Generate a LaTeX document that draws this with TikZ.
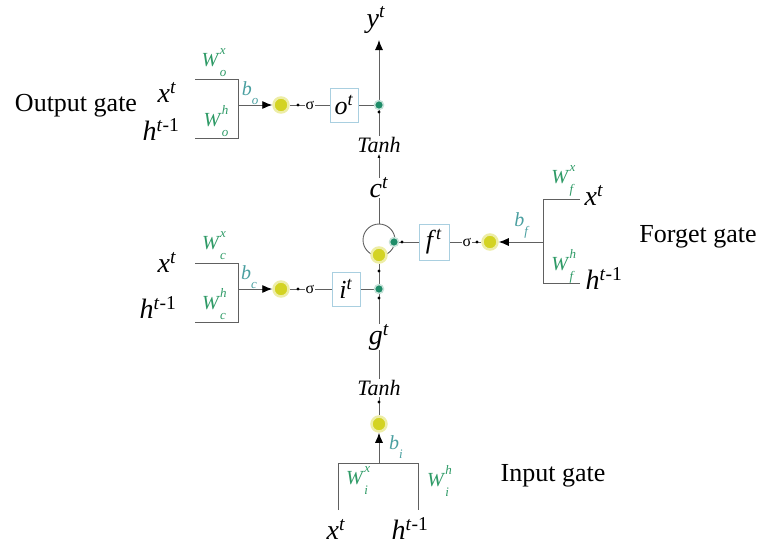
\documentclass[tikz,border=0pt]{standalone}
\usepackage{fontspec}
\setmainfont{Liberation Serif}
\usetikzlibrary{arrows.meta,backgrounds}
\definecolor{wgreen}{HTML}{2E9A66}
\definecolor{bteal}{HTML}{4A9FA0}
\definecolor{boxblue}{HTML}{A9CFE0}
\definecolor{ydotc}{HTML}{D3D323}
\definecolor{gdotc}{HTML}{1E8C68}
\definecolor{wirec}{HTML}{606060}
\newcommand{\vv}[2]{\textit{#1}\textsuperscript{\textit{#2}}}
\newcommand{\hh}{\textit{h}\textsuperscript{\textit{t}-1}}
\newcommand{\WW}[2]{\textit{W}\rlap{\raisebox{0.6em}{\fontsize{13}{13}\selectfont\textit{#1}}}\raisebox{-0.5em}{\fontsize{13}{13}\selectfont\textit{#2}}}
\newcommand{\BB}[1]{\textit{b}\raisebox{-0.45em}{\fontsize{13}{13}\selectfont\textit{#1}}}
\begin{document}
\begin{tikzpicture}[x=1pt,y=-1pt,
  gatelbl/.style={inner sep=0, font=\fontsize{26}{28}\selectfont},
  var/.style={inner sep=0, font=\fontsize{28}{30}\selectfont},
  wl/.style={inner sep=0, text=wgreen, font=\fontsize{20}{21}\selectfont},
  bl/.style={inner sep=0, text=bteal, font=\fontsize{20}{21}\selectfont},
  sig/.style={inner sep=0.5, font=\fontsize{16}{18}\selectfont},
  tanhlbl/.style={inner sep=1, font=\itshape\fontsize{22}{24}\selectfont},
  gbox/.style={draw=boxblue, line width=0.8pt, minimum width=28, minimum height=34, inner sep=0, font=\fontsize{26}{28}\selectfont},
  ydot/.style={circle, fill=ydotc, draw=ydotc!40, line width=2.5pt, minimum size=15, inner sep=0},
  gdot/.style={circle, fill=gdotc, draw=gdotc!25, line width=1.5pt, minimum size=9, inner sep=0},
  sdot/.style={circle, fill=black, minimum size=3.2, inner sep=0},
  wire/.style={draw=wirec, line width=0.9pt},
  arr/.style={wire, -{Latex[length=10,width=8,color=black]}},
  sarr/.style={wire, line width=0.6pt, -{Latex[length=4,width=3,color=black]}},
  cellc/.style={circle, draw=wirec, line width=0.9pt, minimum size=32, inner sep=0}
]
\useasboundingbox (0,0) rectangle (762,547);

% ---------- main column ----------
\node[var] (yt) at (376,20) {\vv{y}{t}};
\coordinate (ytip) at (379,40);
\node[gdot] (og) at (379,105) {};
\node[sdot] (od) at (379,112) {};
\node[tanhlbl] (th1) at (379,145) {Tanh};
\node[var] (ct) at (379,188) {\vv{c}{t}};
\node[cellc] (cell) at (379,240) {};
\node[ydot] (yc) at (379,255) {};
\node[gdot] (cg) at (394,242) {};
\node[sdot] (cgd) at (402,242) {};
\node[sdot] (yd) at (379,271) {};
\node[gdot] (ig) at (379,289) {};
\node[sdot] (igd) at (379,298) {};
\node[var] (gt) at (379,337) {\vv{g}{t}};
\node[tanhlbl] (th2) at (379,388) {Tanh};
\node[sdot] (td) at (379,402) {};
\node[ydot] (yi) at (379,424) {};

% ---------- output gate ----------
\node[gatelbl] (outg) at (76,106) {Output gate};
\node[var] (oxt) at (167,92) {\vv{x}{t}};
\node[var] (oht) at (161,130) {\hh};
\node[wl] (owx) at (214,63) {\WW{x}{o}};
\node[wl] (owh) at (216,121) {\WW{h}{o}};
\node[bl] (ob) at (250,93) {\BB{o}};
\coordinate (ot1) at (195,79);
\coordinate (ot2) at (238,79);
\coordinate (ob1) at (195,138);
\coordinate (ob2) at (238,138);
\coordinate (om) at (238,105);
\node[ydot] (yo) at (281,105) {};
\node[sdot] (yod) at (298,105) {};
\node[sig] (so) at (310,105) {σ};
\node[gbox] (obox) at (344,105) {\vv{o}{t}};

% ---------- candidate row (left middle) ----------
\node[var] (cxt) at (167,262) {\vv{x}{t}};
\node[var] (cht) at (158,308) {\hh};
\node[wl] (cwx) at (214,246) {\WW{x}{c}};
\node[wl] (cwh) at (214,304) {\WW{h}{c}};
\node[bl] (cb) at (249,277) {\BB{c}};
\coordinate (ct1) at (195,263);
\coordinate (ct2) at (238,263);
\coordinate (cb1) at (195,322);
\coordinate (cb2) at (238,322);
\coordinate (cm) at (238,289);
\node[ydot] (yci) at (281,289) {};
\node[sdot] (ycd) at (298,289) {};
\node[sig] (sc) at (310,289) {σ};
\node[gbox] (ibox) at (346,289) {\vv{i}{t}};

% ---------- forget gate ----------
\node[gbox, minimum width=30, minimum height=36] (fbox) at (434,242) {\vv{f}{t}};
\node[sig] (sf) at (467,242) {σ};
\node[sdot] (sfd) at (477,242) {};
\node[ydot] (yf) at (490,242) {};
\coordinate (fm) at (543,242);
\coordinate (ft1) at (543,199);
\coordinate (ft2) at (580,199);
\coordinate (fb1) at (543,283);
\coordinate (fb2) at (580,283);
\node[wl] (fwx) at (563,181) {\WW{x}{f}};
\node[wl] (fwh) at (563,266) {\WW{h}{f}};
\node[bl] (fbb) at (522,225) {\BB{f}};
\node[var] (fxt) at (594,195) {\vv{x}{t}};
\node[var] (fht) at (604,279) {\hh};
\node[gatelbl] (forg) at (698,237) {Forget gate};

% ---------- input gate (bottom) ----------
\coordinate (im) at (379,463);
\coordinate (il) at (338,463);
\coordinate (ir) at (418,463);
\coordinate (ilb) at (338,510);
\coordinate (irb) at (418,510);
\node[wl] (iwx) at (357,481) {\WW{x}{i}};
\node[wl] (iwh) at (438,481) {\WW{h}{i}};
\node[bl] (ib) at (396,447) {\BB{i}};
\node[var] (ixt) at (336,529) {\vv{x}{t}};
\node[var] (iht) at (410,529) {\hh};
\node[gatelbl] (inpg) at (553,476) {Input gate};

\begin{scope}[on background layer]
  % main column
  \draw[arr] (th1.north) -- (ytip);
  \draw[sarr] (ct.north) -- (th1.south);
  \draw[wire] (ct.south) -- (cell.north);
  \draw[wire] (yc) -- (ig) -- (gt.north);
  \draw[wire, line width=0.6pt] (gt.south) -- (th2.north);
  \draw[wire] (th2.south) -- (yi);
  \draw[arr] (im) -- (yi.south);
  \draw[wire] (ilb) -- (il) -- (ir) -- (irb);
  % output gate
  \draw[wire] (ot1) -- (ot2) -- (ob2) -- (ob1);
  \draw[arr] (om) -- (yo.west);
  \draw[wire] (yo) -- (so.west);
  \draw[wire] (so.east) -- (obox.west);
  \draw[wire] (obox.east) -- (og);
  % candidate row
  \draw[wire] (ct1) -- (ct2) -- (cb2) -- (cb1);
  \draw[arr] (cm) -- (yci.west);
  \draw[wire] (yci) -- (sc.west);
  \draw[wire] (sc.east) -- (ibox.west);
  \draw[wire] (ibox.east) -- (ig);
  % forget gate
  \draw[wire] (cg) -- (fbox.west);
  \draw[wire] (fbox.east) -- (sf.west);
  \draw[wire] (sf.east) -- (yf);
  \draw[arr] (fm) -- (yf.east);
  \draw[wire] (ft2) -- (ft1) -- (fb1) -- (fb2);
\end{scope}
\end{tikzpicture}
\end{document}
